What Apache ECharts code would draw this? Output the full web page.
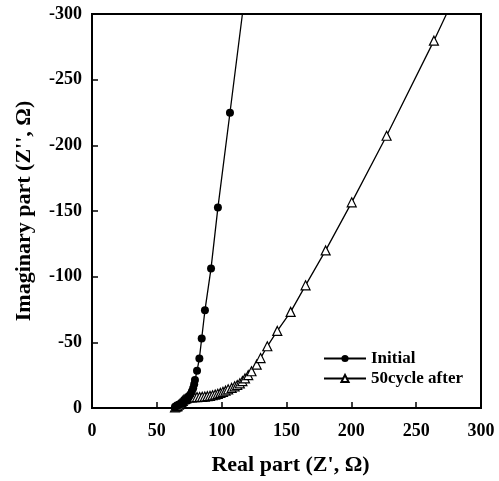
<!DOCTYPE html>
<html><head><meta charset="utf-8">
<script src="https://cdn.jsdelivr.net/npm/echarts@6/dist/echarts.min.js"></script>
<style>html,body{margin:0;padding:0;background:#fff}#c{width:499px;height:481px}</style>
</head><body><div id="c"></div>
<script>
const seriesNames = ['Initial', '50cycle after'];
// Initial: [Z' , Z''] (Z'' negative)
const initialData = [
 [64,-1],[65,-1.5],[66,-2],[67,-2.5],[68,-3],[69,-3.5],[70,-4],[71,-5],[72,-5.5],[73,-6.5],
 [74,-7.5],[75,-9],[76,-10.5],[77,-12.5],[78,-15],[78.8,-18],[79.4,-21.3],[81,-28.3],
 [82.8,-37.7],[84.6,-52.9],[87.1,-74.4],[91.8,-106.3],[97.1,-152.6],[106.4,-224.8]
];
const initialLineEnd = [116,-300];
const cycleData = [
 [64,-0.5],[65,-1],[66,-1.5],[67,-2.5],[68,-3.5],[69,-4.5],[70,-5.5],[71,-6.5],[72,-7],[73,-7.5],
 [75,-8],[77,-8],[79,-8.2],[81,-8.3],[83,-8.4],[85,-8.5],[87,-8.7],[89,-9],[91,-9.3],[93,-9.7],
 [95,-10.2],[97,-10.8],[99,-11.5],[101,-12.3],[103,-13.2],[105,-14.2],[107.7,-15.3],[110,-16.5],
 [112,-17.5],[114,-18.8],[116,-20.5],[118,-22.5],[120.5,-25],[123,-28],[127,-33],[130,-38],
 [135.2,-47],[142.9,-58.7],[153.2,-73.2],[164.7,-93.4],[180.2,-120],[200.3,-156.6],
 [227.2,-207.3],[263.7,-279.7]
];
const cycleLineEnd = [273.4,-300];
const xTicks = [0,50,100,150,200,250,300];
const yTicks = [-300,-250,-200,-150,-100,-50,0];

const font = 'Liberation Serif';
const chart = echarts.init(document.getElementById('c'), null, {renderer:'canvas'});
const mk = (arr, end) => arr.map(p => p).concat([{value:end, symbol:'none'}]);
chart.setOption({
  animation:false,
  grid:{left:92,right:18,top:14,bottom:72,show:true,borderColor:'#000',borderWidth:2,backgroundColor:'transparent'},
  legend:{
    orient:'vertical', left:318, top:345, itemWidth:42, itemHeight:9, itemGap:3,
    textStyle:{fontFamily:font,fontWeight:'bold',fontSize:17,color:'#000'},
    data:seriesNames
  },
  xAxis:{
    type:'value', min:xTicks[0], max:xTicks[xTicks.length-1], interval:50,
    name:"Real part (Z', Ω)", nameLocation:'middle', nameGap:46,
    nameTextStyle:{fontFamily:font,fontWeight:'bold',fontSize:22,color:'#000',padding:[0,0,0,8]},
    axisLine:{lineStyle:{color:'#000',width:2}},
    axisTick:{inside:true,length:6,lineStyle:{color:'#000',width:1.5}},
    axisLabel:{fontFamily:font,fontWeight:'bold',fontSize:18,color:'#000',margin:14},
    splitLine:{show:false}
  },
  yAxis:{
    type:'value', min:yTicks[0], max:yTicks[yTicks.length-1], interval:50, inverse:true,
    name:"Imaginary part (Z'', Ω)", nameLocation:'middle', nameGap:57,
    nameTextStyle:{fontFamily:font,fontWeight:'bold',fontSize:22,color:'#000'},
    axisLine:{lineStyle:{color:'#000',width:2}},
    axisTick:{inside:true,length:6,lineStyle:{color:'#000',width:1.5}},
    axisLabel:{fontFamily:font,fontWeight:'bold',fontSize:18,color:'#000',margin:10},
    splitLine:{show:false}
  },
  series:[
    {name:seriesNames[0], type:'line', data:mk(initialData, initialLineEnd), symbol:'circle', symbolSize:8,
     itemStyle:{color:'#000'}, lineStyle:{color:'#000',width:1.3}, z:3, clip:true},
    {name:seriesNames[1], type:'line', data:mk(cycleData, cycleLineEnd), symbol:'triangle', symbolSize:9,
     itemStyle:{color:'#fff',borderColor:'#000',borderWidth:1.2}, lineStyle:{color:'#000',width:1.3}, z:2, clip:true}
  ]
});
</script></body></html>
